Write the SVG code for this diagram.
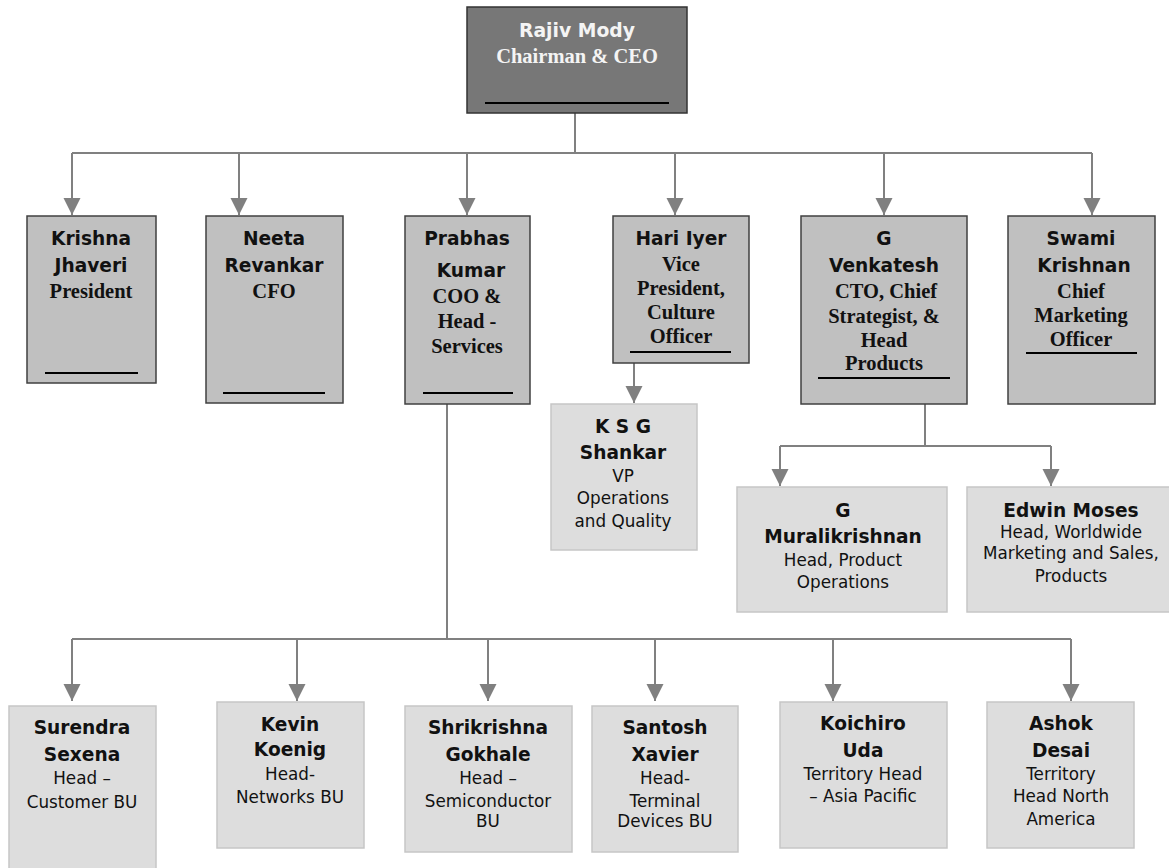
<svg xmlns="http://www.w3.org/2000/svg" width="1169" height="868" viewBox="0 0 1169 868">
<style>
.bg{fill:#ffffff}
.top{fill:#777777;stroke:#333333;stroke-width:1.5}
.mid{fill:#c0c0c0;stroke:#404040;stroke-width:1.5}
.low{fill:#dddddd;stroke:#c6c6c6;stroke-width:1.5}
.ul{stroke:#000000;stroke-width:2}
.c{fill:none;stroke:#808080;stroke-width:2}
.n{font-family:"DejaVu Sans",Verdana,sans-serif;font-weight:bold;font-size:18.6px;fill:#111111;text-anchor:middle}
.t{font-family:"Liberation Serif","Times New Roman",serif;font-weight:bold;font-size:20.5px;fill:#111111;text-anchor:middle}
.d{font-family:"DejaVu Sans",Verdana,sans-serif;font-size:16.8px;fill:#111111;text-anchor:middle}
.w{fill:#f4f4f4}
</style>
<defs>
<marker id="ah" markerUnits="userSpaceOnUse" markerWidth="18" markerHeight="18" refX="17" refY="8.5" orient="auto">
<path d="M0,0 L17,8.5 L0,17 z" fill="#808080"/>
</marker>
</defs>
<rect class="bg" x="0" y="0" width="1169" height="868"/>

<g id="connectors">
<path class="c" d="M575,113 V153"/>
<path class="c" d="M72,153 H1092"/>
<path class="c" d="M72,153 V215" marker-end="url(#ah)"/>
<path class="c" d="M239,153 V215" marker-end="url(#ah)"/>
<path class="c" d="M467,153 V215" marker-end="url(#ah)"/>
<path class="c" d="M675,153 V215" marker-end="url(#ah)"/>
<path class="c" d="M884,153 V215" marker-end="url(#ah)"/>
<path class="c" d="M1092,153 V215" marker-end="url(#ah)"/>
<path class="c" d="M634,363 V403" marker-end="url(#ah)"/>
<path class="c" d="M925,404 V446 H780"/>
<path class="c" d="M925,446 H1051"/>
<path class="c" d="M780,446 V486" marker-end="url(#ah)"/>
<path class="c" d="M1051,446 V486" marker-end="url(#ah)"/>
<path class="c" d="M447,404 V639"/>
<path class="c" d="M72,639 H1071"/>
<path class="c" d="M72,639 V701" marker-end="url(#ah)"/>
<path class="c" d="M297,639 V701" marker-end="url(#ah)"/>
<path class="c" d="M488,639 V701" marker-end="url(#ah)"/>
<path class="c" d="M655,639 V701" marker-end="url(#ah)"/>
<path class="c" d="M833,639 V701" marker-end="url(#ah)"/>
<path class="c" d="M1071,639 V701" marker-end="url(#ah)"/>
</g>

<g id="rajiv">
<rect class="top" x="467" y="7" width="220" height="106"/>
<text class="n w" x="577" y="37" style="font-size:18.8px">Rajiv Mody</text>
<text class="t w" x="577" y="63" style="font-size:20.5px">Chairman &amp; CEO</text>
<line class="ul" x1="485" y1="103" x2="669" y2="103"/>
</g>

<g id="krishna">
<rect class="mid" x="27" y="216" width="129" height="167"/>
<text class="n" x="91" y="245">Krishna</text>
<text class="n" x="91" y="272">Jhaveri</text>
<text class="t" x="91" y="298">President</text>
<line class="ul" x1="45" y1="373" x2="138" y2="373"/>
</g>

<g id="neeta">
<rect class="mid" x="206" y="216" width="137" height="187"/>
<text class="n" x="274" y="245">Neeta</text>
<text class="n" x="274" y="272">Revankar</text>
<text class="t" x="274" y="298">CFO</text>
<line class="ul" x1="223" y1="393" x2="325" y2="393"/>
</g>

<g id="prabhas">
<rect class="mid" x="405" y="216" width="125" height="188"/>
<text class="n" x="467" y="245">Prabhas</text>
<text class="n" x="471" y="277">Kumar</text>
<text class="t" x="467" y="303">COO &amp;</text>
<text class="t" x="467" y="328">Head -</text>
<text class="t" x="467" y="353">Services</text>
<line class="ul" x1="423" y1="393" x2="513" y2="393"/>
</g>

<g id="hari">
<rect class="mid" x="613" y="216" width="136" height="147"/>
<text class="n" x="681" y="245">Hari Iyer</text>
<text class="t" x="681" y="271">Vice</text>
<text class="t" x="681" y="295">President,</text>
<text class="t" x="681" y="319">Culture</text>
<text class="t" x="681" y="343">Officer</text>
<line class="ul" x1="630" y1="352" x2="731" y2="352"/>
</g>

<g id="venkatesh">
<rect class="mid" x="801" y="216" width="166" height="188"/>
<text class="n" x="884" y="245">G</text>
<text class="n" x="884" y="272">Venkatesh</text>
<text class="t" x="886" y="298">CTO, Chief</text>
<text class="t" x="884" y="323">Strategist, &amp;</text>
<text class="t" x="884" y="347">Head</text>
<text class="t" x="884" y="370">Products</text>
<line class="ul" x1="818" y1="378" x2="950" y2="378"/>
</g>

<g id="swami">
<rect class="mid" x="1008" y="216" width="147" height="188"/>
<text class="n" x="1081" y="245">Swami</text>
<text class="n" x="1084" y="272">Krishnan</text>
<text class="t" x="1081" y="298">Chief</text>
<text class="t" x="1081" y="322">Marketing</text>
<text class="t" x="1081" y="346">Officer</text>
<line class="ul" x1="1026" y1="353" x2="1137" y2="353"/>
</g>

<g id="ksg">
<rect class="low" x="551" y="404" width="146" height="146"/>
<text class="n" x="623" y="433">K S G</text>
<text class="n" x="623" y="459">Shankar</text>
<text class="d" x="623" y="482">VP</text>
<text class="d" x="623" y="504">Operations</text>
<text class="d" x="623" y="527">and Quality</text>
</g>

<g id="muralikrishnan">
<rect class="low" x="737" y="487" width="210" height="125"/>
<text class="n" x="843" y="517">G</text>
<text class="n" x="843" y="543">Muralikrishnan</text>
<text class="d" x="843" y="566">Head, Product</text>
<text class="d" x="843" y="588">Operations</text>
</g>

<g id="edwin">
<rect class="low" x="967" y="487" width="206" height="125"/>
<text class="n" x="1071" y="517">Edwin Moses</text>
<text class="d" x="1071" y="538">Head, Worldwide</text>
<text class="d" x="1071" y="559">Marketing and Sales,</text>
<text class="d" x="1071" y="582">Products</text>
</g>

<g id="surendra">
<rect class="low" x="9" y="706" width="147" height="170"/>
<text class="n" x="82" y="734">Surendra</text>
<text class="n" x="82" y="761">Sexena</text>
<text class="d" x="82" y="784">Head –</text>
<text class="d" x="82" y="808">Customer BU</text>
</g>

<g id="kevin">
<rect class="low" x="217" y="702" width="147" height="146"/>
<text class="n" x="290" y="731">Kevin</text>
<text class="n" x="290" y="756">Koenig</text>
<text class="d" x="290" y="780">Head-</text>
<text class="d" x="290" y="803">Networks BU</text>
</g>

<g id="shrikrishna">
<rect class="low" x="405" y="706" width="167" height="146"/>
<text class="n" x="488" y="734">Shrikrishna</text>
<text class="n" x="488" y="761">Gokhale</text>
<text class="d" x="488" y="784">Head –</text>
<text class="d" x="488" y="807">Semiconductor</text>
<text class="d" x="488" y="827">BU</text>
</g>

<g id="santosh">
<rect class="low" x="592" y="706" width="146" height="146"/>
<text class="n" x="665" y="734">Santosh</text>
<text class="n" x="665" y="761">Xavier</text>
<text class="d" x="665" y="784">Head-</text>
<text class="d" x="665" y="807">Terminal</text>
<text class="d" x="665" y="827">Devices BU</text>
</g>

<g id="koichiro">
<rect class="low" x="780" y="702" width="167" height="146"/>
<text class="n" x="863" y="730">Koichiro</text>
<text class="n" x="863" y="757">Uda</text>
<text class="d" x="863" y="780">Territory Head</text>
<text class="d" x="863" y="802">– Asia Pacific</text>
</g>

<g id="ashok">
<rect class="low" x="987" y="702" width="147" height="146"/>
<text class="n" x="1061" y="730">Ashok</text>
<text class="n" x="1061" y="757">Desai</text>
<text class="d" x="1061" y="780">Territory</text>
<text class="d" x="1061" y="802">Head North</text>
<text class="d" x="1061" y="825">America</text>
</g>
</svg>
